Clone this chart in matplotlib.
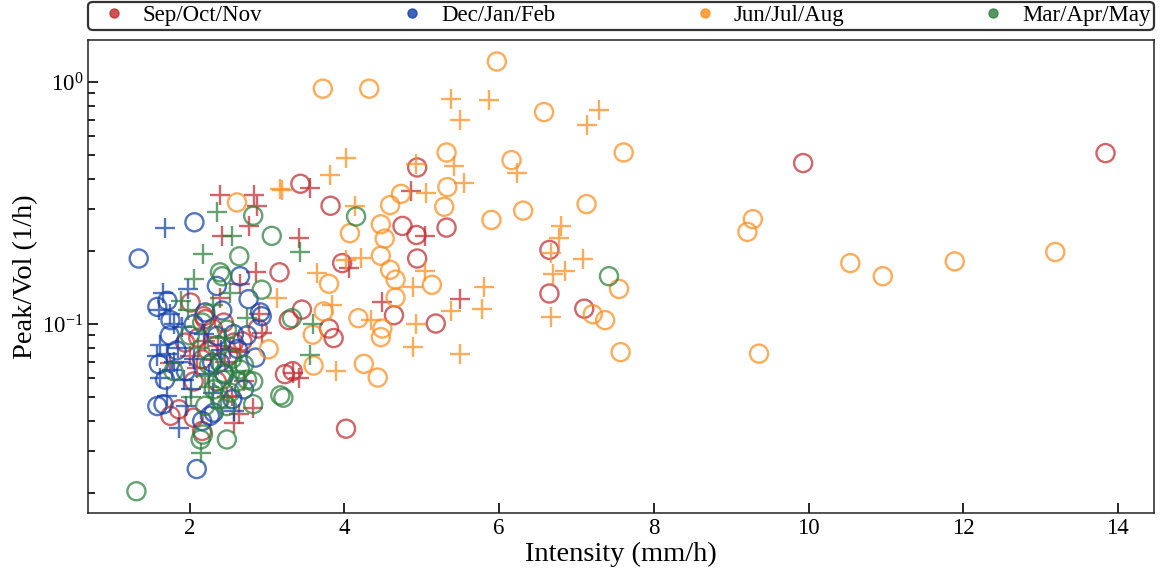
import matplotlib
matplotlib.use("Agg")
import matplotlib.pyplot as plt
from matplotlib.lines import Line2D
from matplotlib.ticker import LogLocator, NullFormatter

plt.rcParams['font.family'] = 'serif'
plt.rcParams['font.serif'] = ['Liberation Serif', 'DejaVu Serif']
plt.rcParams['mathtext.fontset'] = 'custom'
plt.rcParams['mathtext.rm'] = 'Liberation Serif'
plt.rcParams['mathtext.it'] = 'Liberation Serif:italic'

seasons = ['Sep/Oct/Nov', 'Dec/Jan/Feb', 'Jun/Jul/Aug', 'Mar/Apr/May']
colors = ['#C0292D', '#0F3FAA', '#FF8C1A', '#2A7F3A']

# Sep/Oct/Nov
son_circ_x = [9.93, 13.84, 4.94, 3.43, 3.82, 4.75, 4.93, 5.32, 6.65, 6.65, 7.10, 5.18, 4.94, 4.64, 3.97,
              3.45, 3.28, 3.80, 3.86, 3.23, 4.02, 3.16, 2.01, 2.18, 2.20, 2.44, 1.94, 2.11, 2.57, 3.33,
              2.16, 1.75, 2.05, 2.16, 1.86, 2.24, 2.30, 2.50, 2.68, 2.05, 2.35, 2.88]
son_circ_y = [0.464, 0.510, 0.445, 0.381, 0.309, 0.255, 0.234, 0.251, 0.203, 0.134, 0.116, 0.1007, 0.187, 0.109, 0.179,
              0.115, 0.104, 0.096, 0.0877, 0.0622, 0.0370, 0.164, 0.123, 0.108, 0.105, 0.1016, 0.084, 0.088, 0.084, 0.064,
              0.0716, 0.0418, 0.0411, 0.0362, 0.0445, 0.0776, 0.096, 0.074, 0.085, 0.058, 0.058, 0.096]
son_plus_x = [3.55, 4.86, 5.04, 3.41, 5.49, 4.06, 4.49, 3.41, 2.39, 2.83, 2.87, 2.76, 2.42, 2.85, 2.65, 2.39,
              2.93, 3.34, 1.75, 2.09, 2.52, 2.37, 2.54, 2.57, 2.63, 2.82, 2.48, 2.20, 2.65, 2.00, 2.45,
              2.90, 2.70]
son_plus_y = [0.365, 0.354, 0.232, 0.228, 0.127, 0.171, 0.124, 0.0602, 0.342, 0.342, 0.307, 0.255, 0.232, 0.164, 0.1465, 0.129,
              0.0924, 0.063, 0.0694, 0.066, 0.0788, 0.0814, 0.0505, 0.0392, 0.0424, 0.0452, 0.0498, 0.085, 0.077, 0.074, 0.070,
              0.110, 0.058]

# Dec/Jan/Feb
djf_circ_x = [2.06, 1.34, 2.65, 2.35, 2.76, 1.71, 1.58, 2.20, 2.91, 2.42, 2.93, 1.74, 2.35, 2.57, 2.74, 1.60,
              1.68, 2.29, 2.39, 2.85, 2.70, 1.58, 1.66, 2.16, 2.31, 2.09, 2.26, 1.83, 1.95, 2.45, 2.62,
              1.75, 2.05, 2.55]
djf_circ_y = [0.264, 0.187, 0.158, 0.144, 0.127, 0.125, 0.118, 0.112, 0.112, 0.114, 0.108, 0.090, 0.0895, 0.091, 0.090, 0.0683,
              0.059, 0.0694, 0.0694, 0.0728, 0.0538, 0.0459, 0.0467, 0.0398, 0.0431, 0.0252, 0.0418, 0.078, 0.064, 0.062, 0.079,
              0.104, 0.100, 0.049]
djf_plus_x = [1.68, 1.98, 1.65, 1.75, 1.90, 2.18, 1.58, 1.77, 1.92, 1.71, 1.86, 2.01, 2.57, 1.62, 1.70, 1.80,
              1.85, 2.05, 2.25, 2.40, 1.62, 1.95, 2.30, 1.60, 1.80]
djf_plus_y = [0.251, 0.140, 0.135, 0.110, 0.097, 0.091, 0.074, 0.065, 0.059, 0.0505, 0.0374, 0.0538, 0.0438, 0.082, 0.075, 0.070,
              0.080, 0.072, 0.062, 0.078, 0.060, 0.046, 0.052, 0.115, 0.100]

# Jun/Jul/Aug
jja_circ_x = [5.97, 3.72, 4.32, 6.58, 7.61, 5.32, 6.16, 5.33, 4.59, 4.73, 5.29, 4.47, 4.07, 4.52, 5.90, 6.31,
              7.13, 7.55, 7.21, 7.37, 7.57, 5.13, 4.66, 4.59, 4.47, 4.66, 4.49, 4.47, 4.18, 3.80, 3.73, 3.59,
              3.60, 4.25, 4.43, 2.61, 3.02, 9.28, 9.21, 10.54, 10.96, 11.89, 13.19, 9.36]
jja_circ_y = [1.22, 0.942, 0.942, 0.754, 0.513, 0.513, 0.477, 0.369, 0.311, 0.346, 0.306, 0.259, 0.238, 0.226, 0.270, 0.295,
              0.314, 0.140, 0.110, 0.104, 0.0767, 0.1456, 0.153, 0.168, 0.192, 0.129, 0.096, 0.0885, 0.106, 0.147, 0.113, 0.0906,
              0.0675, 0.0686, 0.0602, 0.319, 0.0788, 0.272, 0.241, 0.179, 0.158, 0.182, 0.199, 0.0756]
jja_plus_x = [5.38, 5.87, 5.49, 7.29, 7.14, 4.02, 3.81, 5.41, 6.23, 4.92, 5.54, 3.19, 4.13, 5.05, 6.80, 6.77,
              6.67, 7.08, 6.85, 6.69, 6.67, 5.81, 5.78, 5.38, 5.50, 4.93, 4.88, 5.04, 4.88, 4.34, 4.02, 4.21,
              3.64, 3.84, 3.89, 3.17, 3.13]
jja_plus_y = [0.850, 0.844, 0.697, 0.772, 0.664, 0.485, 0.416, 0.450, 0.424, 0.459, 0.384, 0.360, 0.307, 0.348, 0.255, 0.228,
              0.198, 0.187, 0.166, 0.162, 0.107, 0.142, 0.116, 0.113, 0.0755, 0.1007, 0.0804, 0.166, 0.143, 0.104, 0.184, 0.188,
              0.163, 0.120, 0.0643, 0.362, 0.129]

# Mar/Apr/May
mam_circ_x = [4.15, 7.42, 3.32, 3.21, 2.82, 3.06, 2.64, 2.39, 2.42, 2.93, 1.79, 2.44, 2.65, 2.74, 2.82, 2.82,
              2.14, 2.48, 1.31, 3.17, 2.31, 2.42, 2.52, 2.39, 2.48, 2.16, 2.17, 2.25, 2.55, 2.35, 2.62,
              2.20, 2.00, 2.48, 2.70]
mam_circ_y = [0.279, 0.158, 0.106, 0.0497, 0.281, 0.232, 0.191, 0.164, 0.158, 0.139, 0.064, 0.063, 0.065, 0.059, 0.058, 0.0467,
              0.0334, 0.0334, 0.0204, 0.0508, 0.0538, 0.059, 0.0522, 0.049, 0.0459, 0.1016, 0.0350, 0.068, 0.072, 0.082, 0.058,
              0.046, 0.090, 0.095, 0.068]
mam_plus_x = [3.42, 3.59, 3.55, 2.35, 2.55, 2.17, 2.06, 2.52, 1.88, 1.98, 2.74, 2.20, 2.14, 2.01, 2.30, 2.45,
              2.60, 2.25, 2.40, 2.10, 2.30]
mam_plus_y = [0.1995, 0.1007, 0.0743, 0.290, 0.232, 0.195, 0.154, 0.135, 0.125, 0.114, 0.1066, 0.061, 0.0294, 0.0498, 0.072, 0.088,
              0.064, 0.055, 0.045, 0.080, 0.120]

circ_x = [son_circ_x, djf_circ_x, jja_circ_x, mam_circ_x]
circ_y = [son_circ_y, djf_circ_y, jja_circ_y, mam_circ_y]
plus_x = [son_plus_x, djf_plus_x, jja_plus_x, mam_plus_x]
plus_y = [son_plus_y, djf_plus_y, jja_plus_y, mam_plus_y]

fig = plt.figure(figsize=(11.62, 5.75), dpi=100)
ax = fig.add_axes([0.0757, 0.1083, 0.9174, 0.8221])

ALPHA = 0.72
S = 170
LW = 1.7
for i in range(4):
    ax.scatter(circ_x[i], circ_y[i], s=S, marker='o', facecolors='none',
               edgecolors=colors[i], linewidths=LW, alpha=ALPHA)
    ax.scatter(plus_x[i], plus_y[i], s=S * 1.2, marker='+', color=colors[i],
               linewidths=LW, alpha=ALPHA)

ax.set_yscale('log')
ax.yaxis.set_major_locator(LogLocator(base=10))
ax.yaxis.set_minor_locator(LogLocator(base=10, subs=range(2, 10)))
ax.yaxis.set_minor_formatter(NullFormatter())
ax.margins(x=0.05, y=0.05)
ax.set_xticks([2, 4, 6, 8, 10, 12, 14])

ax.tick_params(which='both', direction='in', top=False, right=False, labelsize=16.5, width=1.2)
ax.tick_params(which='major', length=7)
ax.tick_params(which='minor', length=5)
for sp in ax.spines.values():
    sp.set_linewidth(1.1)
    sp.set_color('#222222')

ax.set_xlabel('Intensity (mm/h)', fontsize=20.5, labelpad=2)
ax.set_ylabel('Peak/Vol (1/h)', fontsize=20.5, labelpad=3)

handles = [Line2D([], [], linestyle='none', marker='o', markersize=6.5, color=c, alpha=0.8)
           for c in colors]
leg = ax.legend(handles, seasons, loc='lower left', bbox_to_anchor=(0.0, 1.022, 1.0, 0.05),
                mode='expand', ncol=4, borderaxespad=0, fontsize=16.5, frameon=True,
                fancybox=True, handlelength=2.0, handletextpad=0.25, borderpad=0.15,
                columnspacing=1.0)
leg.get_frame().set_edgecolor('#333333')
leg.get_frame().set_linewidth(1.6)
leg.get_frame().set_alpha(1.0)

fig.savefig('out.png', dpi=100)
